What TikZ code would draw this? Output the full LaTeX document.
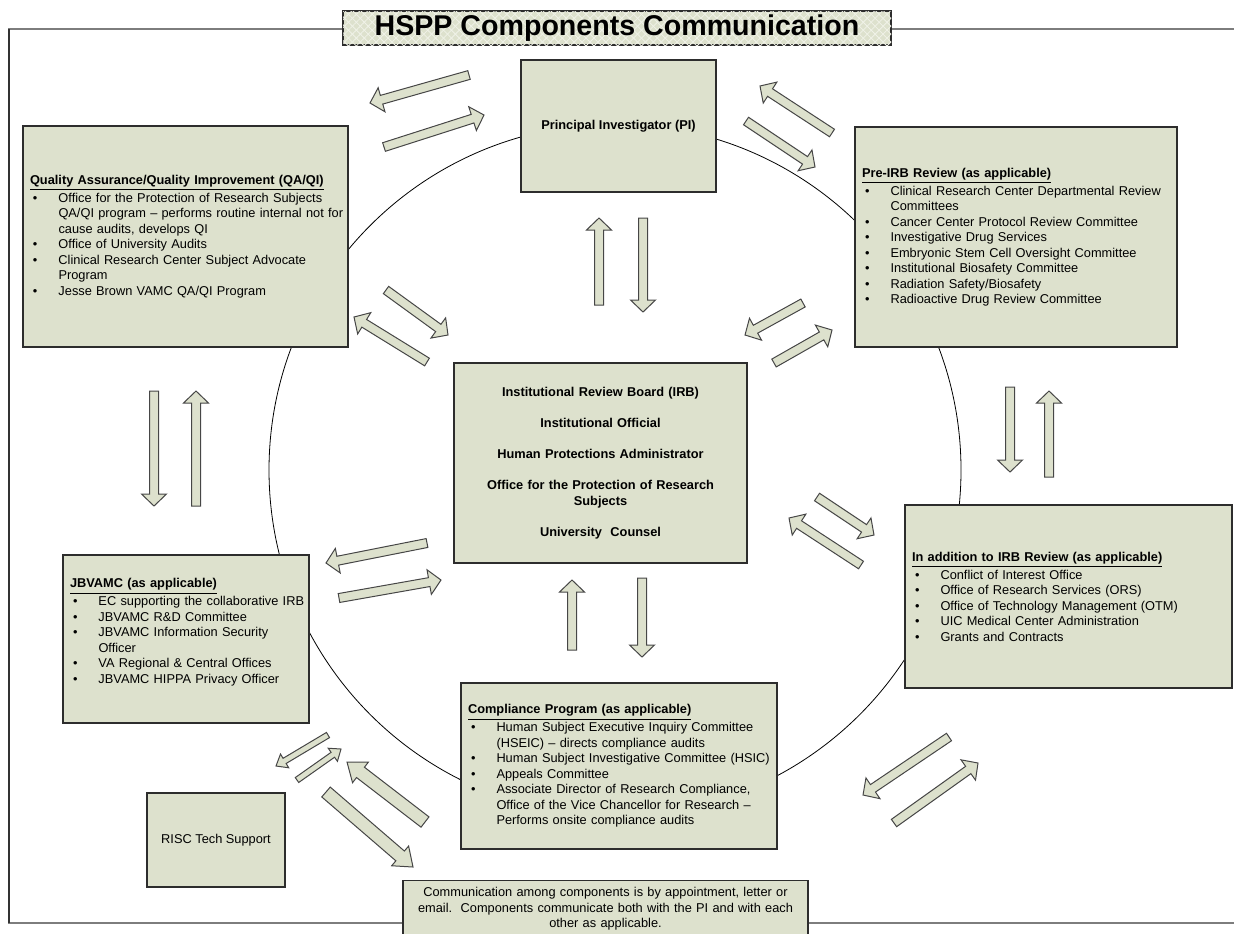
\documentclass[tikz,border=0pt]{standalone}
\usepackage{fontspec}
\setmainfont{Liberation Sans}
\usepackage{xcolor}
\usetikzlibrary{calc}
\usetikzlibrary{patterns.meta}

\definecolor{boxfill}{RGB}{221,225,205}
\definecolor{boxline}{RGB}{45,45,45}
\definecolor{framegray}{RGB}{125,125,125}
\definecolor{arrowline}{RGB}{70,70,70}

\newcommand{\bodyfont}{\fontsize{6.4}{7.75}\selectfont}
\newcommand{\titlefont}{\fontsize{14.3}{16}\selectfont\bfseries}
\newcommand{\hd}[1]{\mbox{\underline{\textbf{#1}}}}
\newcommand{\bl}[1]{\mbox{\makebox[14.25pt][l]{\hspace{1.5pt}\textbullet}#1}}
\newcommand{\ct}[1]{\mbox{\hspace*{14.25pt}#1}}

% tail, tip, half shaft, half head, head length
\newcommand{\blockarrow}[5]{%
  \coordinate (ba-n) at ($(#2)!#5!(#1)$);
  \draw[arrowbox] ($(#1)!#3!90:(#2)$) -- ($(ba-n)!#3!-90:(#1)$) -- ($(ba-n)!#4!-90:(#1)$) -- (#2)
    -- ($(ba-n)!#4!90:(#1)$) -- ($(ba-n)!#3!90:(#1)$) -- ($(#1)!#3!-90:(#2)$) -- cycle;
}

\tikzset{
  compbox/.style={draw=boxline, fill=boxfill, line width=0.6pt, inner xsep=3.5pt, inner ysep=2pt, font=\bodyfont},
  listbox/.style={compbox, align=left},
  titlebox/.style={compbox, font=\titlefont, inner sep=0pt,
    postaction={pattern={Lines[angle=45,distance=2.8pt,line width=0.4pt]}, pattern color=white!55!boxfill},
    postaction={pattern={Lines[angle=-45,distance=2.8pt,line width=0.4pt]}, pattern color=white!55!boxfill}},
  arrowbox/.style={draw=arrowline, fill=boxfill, line width=0.5pt, line join=miter},
  ringline/.style={black, line width=0.4pt}
}

\begin{document}
\begin{tikzpicture}[x=0.5pt,y=-0.5pt]

\useasboundingbox (0,0) rectangle (1234,933);
\clip (0,0) rectangle (1234,933);

%frame and ring
{
\draw[framegray, line width=1pt] (1240,29) -- (9,29) -- (9,923) -- (1240,923);
\draw[black!80, line width=0.6pt] (9,29) -- (9,923);

\draw[ringline] (615,470) circle [radius=173pt];
}

%arrow ends
{
\coordinate (a1-t) at (469,75);   \coordinate (a1-h) at (370,103);
\coordinate (a2-t) at (384,147);  \coordinate (a2-h) at (484,115);
\coordinate (a3-t) at (832,133);  \coordinate (a3-h) at (760,86);
\coordinate (a4-t) at (746,121);  \coordinate (a4-h) at (815,167);
\coordinate (a5-t) at (599,305);  \coordinate (a5-h) at (599,218);
\coordinate (a6-t) at (643,218);  \coordinate (a6-h) at (643,312);
\coordinate (a7-t) at (386,290);  \coordinate (a7-h) at (448,335);
\coordinate (a8-t) at (427,362);  \coordinate (a8-h) at (354,317);
\coordinate (a9-t) at (803,303);  \coordinate (a9-h) at (745,335);
\coordinate (a10-t) at (774,363); \coordinate (a10-h) at (832,330);
\coordinate (a11-t) at (154,391); \coordinate (a11-h) at (154,506);
\coordinate (a12-t) at (196,506); \coordinate (a12-h) at (196,391);
\coordinate (a13-t) at (1010,387); \coordinate (a13-h) at (1010,472);
\coordinate (a14-t) at (1049,477); \coordinate (a14-h) at (1049,391);
\coordinate (a15-t) at (817,497); \coordinate (a15-h) at (874,535);
\coordinate (a16-t) at (861,565); \coordinate (a16-h) at (789,518);
\coordinate (a17-t) at (427,543); \coordinate (a17-h) at (326,563);
\coordinate (a18-t) at (339,598); \coordinate (a18-h) at (441,580);
\coordinate (a19-t) at (572,650); \coordinate (a19-h) at (572,580);
\coordinate (a20-t) at (642,578); \coordinate (a20-h) at (642,657);
\coordinate (a21-t) at (949,737); \coordinate (a21-h) at (863,795);
\coordinate (a22-t) at (894,823); \coordinate (a22-h) at (978,763);
\coordinate (a23-t) at (328,735); \coordinate (a23-h) at (276,766);
\coordinate (a24-t) at (297,780); \coordinate (a24-h) at (341,749);
\coordinate (a25-t) at (425,822); \coordinate (a25-h) at (347,762);
\coordinate (a26-t) at (326,792); \coordinate (a26-h) at (413,867);
}

%arrows
{
\foreach \i in {1,...,22}
  {\blockarrow{a\i-t}{a\i-h}{2.25pt}{6.25pt}{6pt}}

\foreach \i in {23,24}
  {\blockarrow{a\i-t}{a\i-h}{1.5pt}{4pt}{5pt}}

\foreach \i in {25,26}
  {\blockarrow{a\i-t}{a\i-h}{3.25pt}{6.5pt}{8.5pt}}
}

% nodes
{

\node[compbox, font=\bodyfont\bfseries, minimum width=97.5pt, minimum height=66pt] (pi) at (618.5,126) {Principal Investigator (PI)};

\node[listbox, text width=155.5pt, minimum width=162.5pt, minimum height=110.5pt] (qa) at (185.5,236.5) {
\hd{Quality Assurance/Quality Improvement (QA/QI)}\\
\bl{Office for the Protection of Research Subjects}\\
\ct{QA/QI program -- performs routine internal not for}\\
\ct{cause audits, develops QI}\\
\bl{Office of University Audits}\\
\bl{Clinical Research Center Subject Advocate}\\
\ct{Program}\\
\bl{Jesse Brown VAMC QA/QI Program}};

\node[listbox, text width=154pt, minimum width=161pt, minimum height=110pt] (preirb) at (1016,237) {
\hd{Pre-IRB Review (as applicable)}\\
\bl{Clinical Research Center Departmental Review}\\
\ct{Committees}\\
\bl{Cancer Center Protocol Review Committee}\\
\bl{Investigative Drug Services}\\
\bl{Embryonic Stem Cell Oversight Committee}\\
\bl{Institutional Biosafety Committee}\\
\bl{Radiation Safety/Biosafety}\\
\bl{Radioactive Drug Review Committee}};

\node[compbox, font=\bodyfont\bfseries, align=center, text width=139.5pt, minimum width=146.5pt, minimum height=100pt] (irb) at (600.5,463) {
Institutional Review Board (IRB)\\[7.75pt]
Institutional Official\\[7.75pt]
Human Protections Administrator\\[7.75pt]
Office for the Protection of Research\\
Subjects\\[7.75pt]
University\ \ Counsel};

\node[listbox, text width=116pt, minimum width=123pt, minimum height=84pt] (jbvamc) at (186,639) {
\hd{JBVAMC (as applicable)}\\
\bl{EC supporting the collaborative IRB}\\
\bl{JBVAMC R\&D Committee}\\
\bl{JBVAMC Information Security}\\
\ct{Officer}\\
\bl{VA Regional \& Central Offices}\\
\bl{JBVAMC HIPPA Privacy Officer}\rule[-8pt]{0pt}{8pt}};

\node[listbox, text width=156.5pt, minimum width=163.5pt, minimum height=91.5pt] (addirb) at (1068.5,596.5) {
\hd{In addition to IRB Review (as applicable)}\\
\bl{Conflict of Interest Office}\\
\bl{Office of Research Services (ORS)}\\
\bl{Office of Technology Management (OTM)}\\
\bl{UIC Medical Center Administration}\\
\bl{Grants and Contracts}};

\node[listbox, text width=151pt, minimum width=158pt, minimum height=83pt] (compl) at (619,766) {
\hd{Compliance Program (as applicable)}\\
\bl{Human Subject Executive Inquiry Committee}\\
\ct{(HSEIC) -- directs compliance audits}\\
\bl{Human Subject Investigative Committee (HSIC)}\\
\bl{Appeals Committee}\\
\bl{Associate Director of Research Compliance,}\\
\ct{Office of the Vice Chancellor for Research --}\\
\ct{Performs onsite compliance audits}};

\node[compbox, minimum width=69pt, minimum height=47pt] (risc) at (216,840) {RISC Tech Support};

\node[compbox, align=center, text width=195.5pt, inner ysep=3.5pt, anchor=north] (note) at (605.5,880) {
Communication among components is by appointment, letter or\\
email.\ \ Components communicate both with the PI and with each\\
other as applicable.};

\node[titlebox, minimum width=274pt, minimum height=17pt] (title) at (617,28) {HSPP Components Communication};

}

\end{tikzpicture}
\end{document}
